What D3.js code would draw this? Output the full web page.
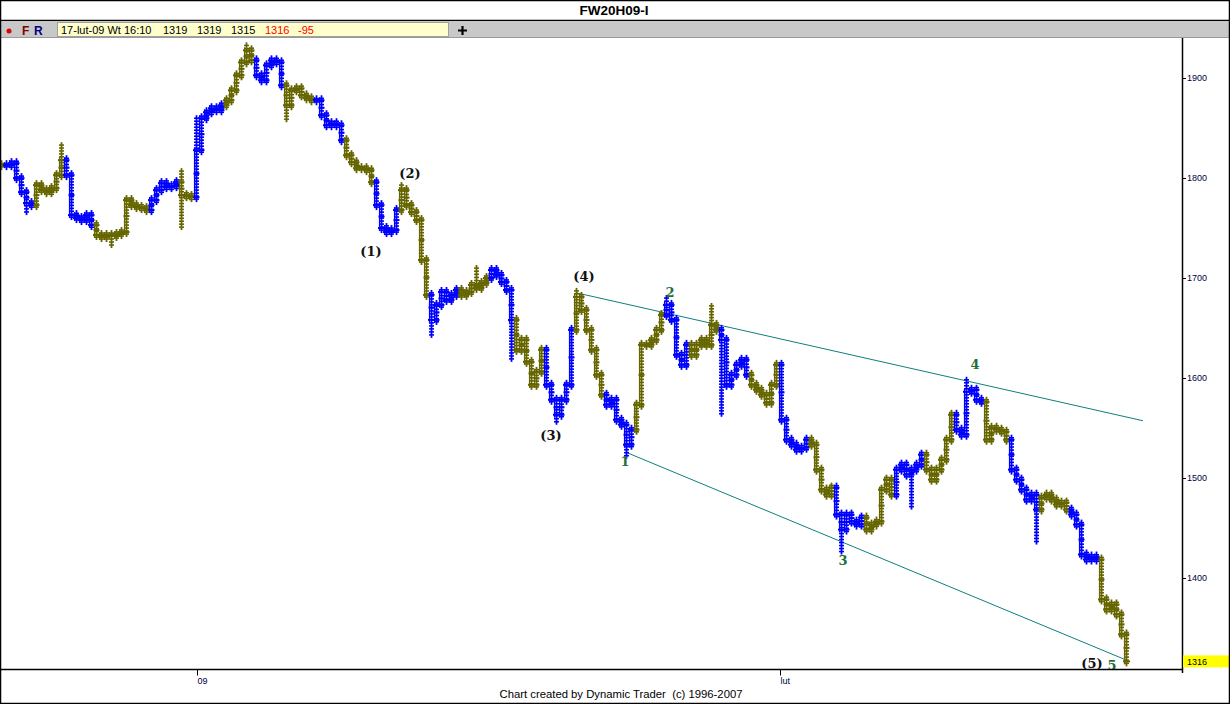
<!DOCTYPE html>
<html><head><meta charset="utf-8">
<script src="https://cdn.jsdelivr.net/npm/d3@7"></script>
<style>body{margin:0;background:#fff}svg{display:block}text{white-space:pre}</style>
</head><body><svg id="c" width="1230" height="704"></svg>
<script>
// ---- data ----
const closes = [
1813,1813,1815,1800,1786,1775,1773,1793,1788,1786,1790,1803,1818,1803,1763,1760,1758,1763,1753,1743,
1741,1743,1742,1744,1746,1778,1773,1771,1770,1768,1778,1788,1795,1791,1792,1796,1783,1782,1781,1828,
1860,1866,1870,1868,1873,1878,1888,1903,1916,1928,1918,1903,1898,1913,1918,1916,1893,1873,1888,1890,
1883,1880,1878,1878,1863,1853,1855,1853,1838,1823,1816,1810,1810,1808,1796,1773,1750,1746,1748,1768,
1788,1773,1766,1758,1718,1683,1658,1673,1686,1678,1683,1688,1683,1686,1693,1690,1695,1700,1708,1703,
1696,1688,1658,1628,1638,1616,1593,1606,1628,1593,1578,1563,1578,1593,1648,1681,1668,1648,1628,1603,
1583,1573,1578,1558,1553,1533,1548,1573,1633,1633,1638,1648,1663,1673,1658,1623,1613,1633,1623,1633,
1638,1633,1653,1648,1638,1593,1603,1613,1618,1603,1593,1588,1583,1575,1593,1613,1558,1538,1533,1528,
1530,1538,1533,1508,1488,1483,1490,1463,1448,1463,1456,1453,1460,1448,1453,1456,1488,1498,1483,1508,
1513,1503,1508,1513,1523,1508,1498,1508,1518,1538,1563,1548,1543,1586,1588,1578,1576,1538,1550,1548,
1546,1538,1508,1498,1488,1478,1483,1468,1480,1483,1478,1473,1475,1468,1463,1453,1423,1418,1421,1418,
1378,1368,1373,1363,1343,1316];
// bar index where each trading day (colour block) begins; colours alternate olive / blue
const dayStarts = [0,1,7,13,19,30,36,39,45,51,57,63,69,75,80,86,92,98,103,109,115,121,127,133,138,144,150,156,162,167,173,179,185,191,197,202,208,214,220];
// extreme highs / lows of individual bars
const spikeIdx = [5,12,22,36,39,49,57,80,86,95,102,111,115,125,133,142,144,168,182,193,207,220];
const spikeLo  = [1768,null,1735,1753,1820,null,1861,null,1645,null,1621,1558,null,1524,null,null,1566,1428,1473,null,1438,null];
const spikeHi  = [null,1831,null,1805,1858,1931,null,1791,null,1708,null,null,1685,null,1678,1670,1641,null,null,1596,null,1396];
const yTicks = [1400,1500,1600,1700,1800,1900];
const xTickLabels = ['09','lut'];
const xTickPos = [39.2,155.8];
const waveText  = ['(1)','(2)','(3)','(4)','(5)','1','2','3','4','5'];
const waveIdx   = [74,81.8,110,116.6,218.2,124.8,133.8,168.4,194.8,222.2];
const wavePrice = [1727,1805,1542,1702,1314,1516,1686,1417,1613,1312];
const trendFromIdx = [115.2,125.2], trendFromP = [1685,1525];
const trendToIdx   = [228.4,225.2], trendToP   = [1557,1317];
const quoteText = ['17-lut-09 Wt 16:10','1319','1319','1315','1316','-95'];
const title = 'FW20H09-I';
const footer = 'Chart created by Dynamic Trader  (c) 1996-2007';

// ---- drawing ----
const W=1230,H=704;
const svg=d3.select('#c');
const BLUE='#0000ff', OLIVE='#666600', TEAL='#0f7f7f', WGREEN='#1f7038';
const x=d3.scaleLinear().domain([0,225]).range([1,1126]);
const y=d3.scaleLinear().domain([1400,1900]).range([577.5,78.3]);
const plotR=1182, plotT=38, plotB=669.5;
const SANS='Liberation Sans, Arial, sans-serif';

svg.append('rect').attr('x',0).attr('y',0).attr('width',W).attr('height',H).attr('fill','#fff');
// title bar
svg.append('text').attr('x',614).attr('y',15).attr('text-anchor','middle')
  .attr('font-family',SANS).attr('font-weight','bold').attr('font-size',13.5).text(title);
svg.append('line').attr('x1',0).attr('x2',W).attr('y1',20.5).attr('y2',20.5).attr('stroke','#000').attr('stroke-width',1.5);
// toolbar
svg.append('rect').attr('x',0).attr('y',21).attr('width',W).attr('height',16).attr('fill','#c8c8c8');
svg.append('line').attr('x1',0).attr('x2',W).attr('y1',37.5).attr('y2',37.5).attr('stroke','#9a9a9a');
svg.append('circle').attr('cx',9).attr('cy',31).attr('r',2.5).attr('fill','#e00000');
svg.append('text').attr('x',22).attr('y',35).attr('font-family',SANS).attr('font-weight','bold').attr('font-size',12).attr('fill','#800000').text('F');
svg.append('text').attr('x',34).attr('y',35).attr('font-family',SANS).attr('font-weight','bold').attr('font-size',12).attr('fill','#000080').text('R');
svg.append('rect').attr('x',57.5).attr('y',22.5).attr('width',391).attr('height',14).attr('fill','#ffffcc').attr('stroke','#a0a0a0');
const qx=[61,163,197,231,265,298];
quoteText.forEach((t,i)=>{
  svg.append('text').attr('x',qx[i]).attr('y',34).attr('font-family',SANS)
    .attr('font-size',11).attr('fill',i>=4?'#ff0000':'#000').text(t);
});
svg.append('path').attr('d','M458,30.5H467M462.5,26V35').attr('stroke','#000').attr('stroke-width',2.2);

// trend lines
trendFromIdx.forEach((d,i)=>{
  svg.append('line').attr('x1',x(d)).attr('y1',y(trendFromP[i])).attr('x2',x(trendToIdx[i])).attr('y2',y(trendToP[i]))
    .attr('stroke',TEAL).attr('stroke-width',1);
});

// price bars
const colorOf=i=>{let k=0;dayStarts.forEach((s,j)=>{if(i>=s)k=j;});return k%2===0?OLIVE:BLUE;};
const bars=svg.append('g');
closes.forEach((c,i)=>{
  const prev=i?closes[i-1]:c;
  let lo=Math.min(prev,c), hi=Math.max(prev,c);
  const k=spikeIdx.indexOf(i);
  if(k>=0){ if(spikeLo[k]!=null) lo=Math.min(lo,spikeLo[k]); if(spikeHi[k]!=null) hi=Math.max(hi,spikeHi[k]); }
  const col=colorOf(i), X=Math.round(x(i))+0.5;
  const top=y(hi)-5, bot=y(lo)+5;
  bars.append('line').attr('x1',X).attr('x2',X).attr('y1',top).attr('y2',bot).attr('stroke',col).attr('stroke-width',1.8);
  bars.append('line').attr('x1',X-2).attr('x2',X-2).attr('y1',y(Math.max(prev,c))-3).attr('y2',y(Math.min(prev,c))+3).attr('stroke',col).attr('stroke-width',1.2);
  [c,prev,(c+prev)/2].forEach((v,j)=>{
    const w=j===0?3.5:3;
    bars.append('line').attr('x1',X-w).attr('x2',X+w).attr('y1',y(v)).attr('y2',y(v)).attr('stroke',col).attr('stroke-width',2);
  });
  const steps=Math.max(1,Math.round((bot-top)/3));
  for(let s=1;s<steps;s++){
    const yy=top+(bot-top)*s/steps;
    bars.append('line').attr('x1',X-2.5).attr('x2',X+2.5).attr('y1',yy).attr('y2',yy).attr('stroke',col).attr('stroke-width',1.6);
  }
});

// wave labels
waveText.forEach((t,i)=>{
  const isMajor=t.startsWith('(');
  svg.append('text').attr('x',x(waveIdx[i])).attr('y',y(wavePrice[i])).attr('dy','0.35em').attr('text-anchor','middle')
    .attr('font-family','DejaVu Serif, serif').attr('font-weight','bold').attr('font-size',13)
    .attr('fill',isMajor?'#111':WGREEN).text(t);
});

// axes frame
svg.append('line').attr('x1',0).attr('x2',plotR).attr('y1',plotB).attr('y2',plotB).attr('stroke','#000').attr('stroke-width',1.5);
svg.append('line').attr('x1',plotR+0.5).attr('x2',plotR+0.5).attr('y1',plotT).attr('y2',673).attr('stroke','#000').attr('stroke-width',1.5);
yTicks.forEach(v=>{
  svg.append('line').attr('x1',plotR).attr('x2',plotR+4).attr('y1',Math.round(y(v))+0.5).attr('y2',Math.round(y(v))+0.5).attr('stroke','#000');
  svg.append('text').attr('x',plotR+5).attr('y',y(v)).attr('dy','0.35em').attr('font-family',SANS)
    .attr('font-size',9).attr('fill','#000040').text(v);
});
const last=closes[closes.length-1];
svg.append('rect').attr('x',plotR+1).attr('y',y(last)-6).attr('width',W-plotR-2).attr('height',12).attr('fill','#ffff00');
svg.append('text').attr('x',plotR+5).attr('y',y(last)).attr('dy','0.35em').attr('font-family',SANS)
  .attr('font-size',9).attr('fill','#000').text(last);
xTickPos.forEach((p,i)=>{
  const X=Math.round(x(p))+0.5;
  svg.append('line').attr('x1',X).attr('x2',X).attr('y1',plotB).attr('y2',plotB+6).attr('stroke','#000');
  svg.append('text').attr('x',X).attr('y',684).attr('font-family',SANS)
    .attr('font-size',9).attr('fill','#000040').text(xTickLabels[i]);
});
svg.append('text').attr('x',621).attr('y',698).attr('text-anchor','middle').attr('font-family',SANS)
  .attr('font-size',11.3).attr('fill','#000').text(footer);
svg.append('rect').attr('x',0.5).attr('y',0.5).attr('width',W-1).attr('height',H-1).attr('fill','none').attr('stroke','#000').attr('stroke-width',1.5);
</script></body></html>
